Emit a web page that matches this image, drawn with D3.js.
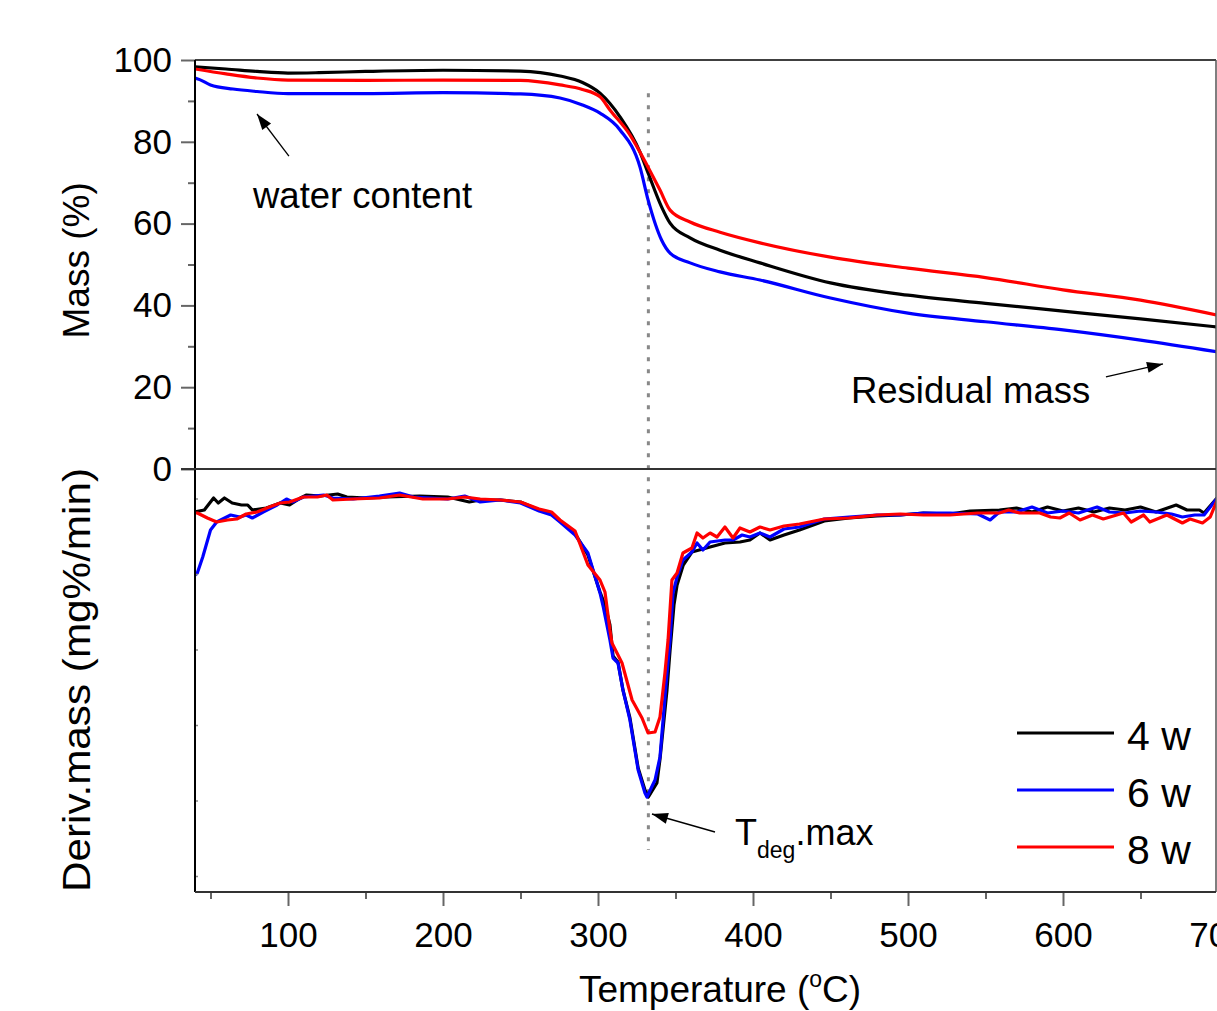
<!DOCTYPE html>
<html><head><meta charset="utf-8">
<script src="https://cdn.jsdelivr.net/npm/d3@7/dist/d3.min.js"></script>
<style>
html,body{margin:0;padding:0;background:#fff;}
svg{display:block;font-family:"Liberation Sans",Arial,sans-serif;}
</style></head>
<body><svg id="chart" width="1217" height="1011"></svg>
<script>
// ---------- DATA ----------
const seriesNames = ["4 w", "6 w", "8 w"];
const seriesColors = ["#000000", "#0000ff", "#ff0000"];

// Mass (%) vs temperature (°C)
const mass4w = [[40,98.3],[60,97.8],[80,97.2],[100,96.8],[120,96.9],[150,97.2],[200,97.5],[250,97.3],[275.5,96.1],[290,94.5],[301.3,91.9],[314.2,86.1],[327.1,77.5],[332.3,72.4],[341,64.1],[346.5,60.1],[359.4,56.5],[378.7,53.5],[404.5,50.4],[450,45.5],[500,42.5],[550,40.5],[600,38.6],[650,36.7],[700,34.7]];
const mass6w = [[40,95.6],[43,95.2],[50,93.9],[64.5,92.9],[80,92.3],[100,91.8],[150,91.8],[200,92.0],[250,91.7],[275.5,90.7],[290,89.0],[301.3,87.0],[314.2,82.9],[327.1,73.8],[332.3,65.8],[341,56.0],[346.5,52.8],[359.4,50.4],[378.7,48.2],[404.5,46.2],[450,41.8],[500,38.1],[550,36.0],[600,34.0],[650,31.5],[700,28.6]];
const mass8w = [[40,97.8],[60,96.6],[80,95.6],[100,95.1],[150,95.0],[200,95.1],[250,95.0],[275.5,93.9],[290,92.8],[301.3,91.0],[307.7,87.8],[320.6,81.7],[332.3,73.8],[340,68.2],[346.5,63.3],[359.4,60.4],[378.7,57.9],[404.5,55.3],[450,51.8],[500,49.1],[550,46.8],[600,43.8],[650,41.3],[700,37.6]];

// Deriv. mass (arbitrary mg%/min units) vs temperature (°C)
const deriv4w = [[40,-0.43],[46,-0.41],[52,-0.29],[55,-0.34],[59,-0.29],[64,-0.34],[70,-0.36],[74,-0.36],[77,-0.41],[86,-0.39],[95,-0.34],[101,-0.36],[108,-0.29],[112,-0.26],[121,-0.27],[132,-0.25],[138,-0.28],[151,-0.29],[164,-0.28],[185,-0.27],[203,-0.28],[217,-0.33],[224,-0.31],[237,-0.31],[250,-0.33],[262,-0.41],[270,-0.44],[275.5,-0.52],[285,-0.64],[293.5,-0.86],[301.3,-1.23],[304.5,-1.36],[307.7,-1.56],[309.7,-1.87],[312.9,-1.93],[316.1,-2.21],[320.6,-2.49],[325.9,-2.99],[330.3,-3.21],[332.5,-3.28],[338,-3.14],[340,-2.90],[344.5,-2.21],[346.5,-1.81],[349,-1.36],[351,-1.16],[355,-0.96],[360.6,-0.83],[367.7,-0.80],[372.3,-0.78],[381.9,-0.74],[391.6,-0.73],[398,-0.71],[404.5,-0.64],[411,-0.71],[420,-0.66],[430,-0.61],[446,-0.52],[462,-0.49],[480,-0.47],[495,-0.46],[510,-0.44],[527,-0.45],[540,-0.42],[559,-0.41],[570,-0.39],[580,-0.43],[590,-0.38],[600,-0.42],[610,-0.39],[620,-0.43],[630,-0.39],[640,-0.41],[650,-0.38],[660,-0.43],[673,-0.36],[680,-0.41],[688,-0.41],[691,-0.44],[700,-0.28]];
const deriv6w = [[40,-1.06],[41.5,-1.04],[45,-0.88],[50,-0.61],[54,-0.53],[63,-0.46],[69,-0.48],[73,-0.46],[77,-0.49],[84,-0.43],[93,-0.36],[99,-0.30],[103,-0.33],[110,-0.28],[123,-0.26],[129,-0.29],[142,-0.30],[159,-0.27],[172,-0.24],[181,-0.28],[203,-0.30],[214,-0.27],[224,-0.33],[237,-0.31],[250,-0.34],[262,-0.42],[270,-0.46],[275.5,-0.53],[285.2,-0.66],[293.5,-0.84],[301.3,-1.24],[303.4,-1.38],[307.7,-1.71],[309.7,-1.89],[312.9,-1.94],[316.1,-2.21],[320.6,-2.51],[325.9,-3.01],[330.3,-3.24],[331.6,-3.28],[336.8,-3.11],[340,-2.88],[344.5,-2.04],[346.5,-1.71],[348.4,-1.24],[351,-1.08],[354.8,-0.91],[360.6,-0.83],[363.9,-0.74],[367.7,-0.81],[372.3,-0.73],[381.9,-0.71],[387.1,-0.71],[393,-0.66],[398,-0.68],[404.5,-0.64],[411,-0.68],[420,-0.60],[430,-0.58],[446,-0.50],[462,-0.48],[480,-0.46],[495,-0.46],[510,-0.44],[527,-0.44],[545,-0.45],[553,-0.51],[559,-0.43],[570,-0.43],[580,-0.38],[590,-0.44],[600,-0.42],[610,-0.44],[622,-0.38],[630,-0.43],[640,-0.44],[650,-0.42],[660,-0.43],[670,-0.45],[677,-0.48],[685,-0.46],[691,-0.46],[700,-0.28]];
const deriv8w = [[40,-0.44],[41.5,-0.44],[48,-0.49],[54,-0.53],[61,-0.51],[67,-0.50],[73,-0.45],[80,-0.43],[88,-0.38],[95,-0.34],[101,-0.33],[110,-0.28],[119,-0.28],[125,-0.26],[129,-0.31],[142,-0.30],[159,-0.29],[172,-0.26],[187,-0.30],[203,-0.30],[214,-0.28],[224,-0.30],[237,-0.31],[250,-0.33],[262,-0.40],[270,-0.43],[275.5,-0.51],[285.2,-0.62],[293.5,-0.96],[301.3,-1.11],[304.5,-1.23],[307.7,-1.61],[309,-1.74],[315.5,-1.94],[322,-2.31],[328.4,-2.49],[332.3,-2.64],[336.8,-2.63],[340,-2.48],[343.2,-2.04],[345.2,-1.71],[347.7,-1.11],[351,-1.04],[354.8,-0.84],[360.6,-0.79],[363.9,-0.64],[367.7,-0.69],[372.3,-0.64],[376.8,-0.68],[381.9,-0.58],[387.1,-0.69],[391.6,-0.59],[398,-0.63],[404.5,-0.58],[411,-0.61],[420,-0.57],[430,-0.55],[446,-0.50],[462,-0.49],[480,-0.46],[495,-0.45],[510,-0.46],[527,-0.46],[545,-0.44],[559,-0.44],[565,-0.41],[572,-0.44],[585,-0.44],[592,-0.48],[598,-0.49],[604,-0.44],[611,-0.51],[619,-0.46],[626,-0.50],[639,-0.44],[644,-0.53],[652,-0.46],[656,-0.53],[667,-0.46],[677,-0.54],[682,-0.50],[690,-0.54],[695,-0.48],[700,-0.29]];

const xTicksMajor = [100, 200, 300, 400, 500, 600, 700];
const xTickLabels = ["100", "200", "300", "400", "500", "600", "700"];
const xTicksMinor = [50, 150, 250, 350, 450, 550, 650];
const massTicksMajor = [0, 20, 40, 60, 80, 100];
const massTickLabels = ["0", "20", "40", "60", "80", "100"];
const massTicksMinor = [10, 30, 50, 70, 90];
const derivTicks = [-0.30, -1.055, -1.81, -2.565, -3.32, -4.075];
const tDegMax = 332.5;

// ---------- LAYOUT ----------
const svg = d3.select("#chart");
const L = 195, R = 1216, T0 = 60, MID = 469, B = 892;
const x = d3.scaleLinear().domain([40, 700]).range([L, 1218]);
const yM = d3.scaleLinear().domain([0, 100]).range([MID, T0]);
const yD = d3.scaleLinear().domain([0, -4.23]).range([MID, B]);
const font = '"Liberation Sans", Arial, sans-serif';

svg.append("defs").append("clipPath").attr("id", "plotclip")
  .append("rect").attr("x", L).attr("y", T0).attr("width", R - L).attr("height", B - T0);

// dotted Tdeg line
svg.append("line")
  .attr("x1", x(tDegMax)).attr("x2", x(tDegMax))
  .attr("y1", yM(91.9)).attr("y2", yD(-3.81))
  .attr("stroke", "#888").attr("stroke-width", 3).attr("stroke-dasharray", "4,8");

// curves
const massSeries = [mass4w, mass6w, mass8w];
const derivSeries = [deriv4w, deriv6w, deriv8w];
const gCurves = svg.append("g").attr("clip-path", "url(#plotclip)");
const lineM = d3.line().x(d => x(d[0])).y(d => yM(d[1])).curve(d3.curveMonotoneX);
const lineD = d3.line().x(d => x(d[0])).y(d => yD(d[1]));
massSeries.forEach((s, i) => {
  gCurves.append("path").attr("d", lineM(s)).attr("fill", "none")
    .attr("stroke", seriesColors[i]).attr("stroke-width", 3.2).attr("stroke-linejoin", "round");
});
derivSeries.forEach((s, i) => {
  gCurves.append("path").attr("d", lineD(s)).attr("fill", "none")
    .attr("stroke", seriesColors[i]).attr("stroke-width", 3.2).attr("stroke-linejoin", "round");
});

// frame
svg.append("line").attr("x1", L).attr("x2", R).attr("y1", T0).attr("y2", T0).attr("stroke", "#000").attr("stroke-width", 1.5);
svg.append("line").attr("x1", R).attr("x2", R).attr("y1", T0).attr("y2", B).attr("stroke", "#555").attr("stroke-width", 1.5);

// upper Y axis
const axM = svg.append("g").attr("transform", `translate(${L},0)`)
  .call(d3.axisLeft(yM).tickValues(massTicksMajor).tickSize(14).tickPadding(9)
    .tickFormat((d, i) => massTickLabels[i]));
axM.select(".domain").remove();
axM.selectAll(".tick line").attr("stroke", "#666").attr("stroke-width", 2);
axM.selectAll(".tick text").attr("font-family", font).attr("font-size", 35).attr("fill", "#000");
const axMm = svg.append("g").attr("transform", `translate(${L},0)`)
  .call(d3.axisLeft(yM).tickValues(massTicksMinor).tickSize(7).tickFormat(""));
axMm.select(".domain").remove();
axMm.selectAll(".tick line").attr("stroke", "#666").attr("stroke-width", 2);

// lower panel tiny inward ticks
svg.append("g").selectAll("line").data(derivTicks).join("line")
  .attr("x1", L).attr("x2", L + 3).attr("y1", d => yD(d)).attr("y2", d => yD(d))
  .attr("stroke", "#888").attr("stroke-width", 1.5);

// left axis line
svg.append("line").attr("x1", L).attr("x2", L).attr("y1", T0).attr("y2", B).attr("stroke", "#000").attr("stroke-width", 2);
// zero line
svg.append("line").attr("x1", L - 14).attr("x2", R).attr("y1", yM(0)).attr("y2", yM(0)).attr("stroke", "#333").attr("stroke-width", 2.2);

// bottom axis
const axX = svg.append("g").attr("transform", `translate(0,${B})`)
  .call(d3.axisBottom(x).tickValues(xTicksMajor).tickSize(14).tickPadding(16)
    .tickFormat((d, i) => xTickLabels[i]));
axX.select(".domain").remove();
axX.selectAll(".tick line").attr("stroke", "#666").attr("stroke-width", 2);
axX.selectAll(".tick text").attr("font-family", font).attr("font-size", 35).attr("fill", "#000");
const axXm = svg.append("g").attr("transform", `translate(0,${B})`)
  .call(d3.axisBottom(x).tickValues(xTicksMinor).tickSize(7).tickFormat(""));
axXm.select(".domain").remove();
axXm.selectAll(".tick line").attr("stroke", "#666").attr("stroke-width", 2);
svg.append("line").attr("x1", L).attr("x2", R).attr("y1", B).attr("y2", B).attr("stroke", "#333").attr("stroke-width", 2.2);

// axis titles
svg.append("text").attr("transform", `translate(89,${yM(51)}) rotate(-90)`)
  .attr("text-anchor", "middle").attr("font-family", font).attr("font-size", 37).text("Mass (%)");
svg.append("text").attr("transform", `translate(90,${yD(-2.11)}) rotate(-90)`)
  .attr("text-anchor", "middle").attr("font-family", font).attr("font-size", 39)
  .attr("textLength", 424).attr("lengthAdjust", "spacingAndGlyphs").text("Deriv.mass (mg%/min)");
const xt = svg.append("text").attr("x", 720).attr("y", 1002).attr("text-anchor", "middle")
  .attr("font-family", font).attr("font-size", 37);
xt.append("tspan").text("Temperature (");
xt.append("tspan").attr("font-size", 23).attr("dy", -15).text("o");
xt.append("tspan").attr("dy", 15).text("C)");

// annotations (arrows in data coordinates)
function arrow(x1, y1, x2, y2) {
  svg.append("line").attr("x1", x1).attr("y1", y1).attr("x2", x2).attr("y2", y2)
    .attr("stroke", "#000").attr("stroke-width", 1.3);
  const a = Math.atan2(y2 - y1, x2 - x1), len = 16, hw = 5.5;
  const bx = x2 - len * Math.cos(a), by = y2 - len * Math.sin(a);
  const px = -Math.sin(a) * hw, py = Math.cos(a) * hw;
  svg.append("polygon").attr("points", `${x2},${y2} ${bx + px},${by + py} ${bx - px},${by - py}`).attr("fill", "#000");
}
arrow(x(100.6), yM(76.5), x(80), yM(86.8));
svg.append("text").attr("x", x(77.4)).attr("y", yM(63.8)).attr("font-family", font).attr("font-size", 36.5).text("water content");
arrow(x(627.7), yM(22.5), x(664.5), yM(25.7));
svg.append("text").attr("x", x(463.2)).attr("y", yM(16.1)).attr("font-family", font).attr("font-size", 36.5).text("Residual mass");
arrow(x(375.5), yD(-3.63), x(334.8), yD(-3.45));
const td = svg.append("text").attr("x", x(388.4)).attr("y", yD(-3.76)).attr("font-family", font).attr("font-size", 36);
td.append("tspan").text("T");
td.append("tspan").attr("font-size", 23).attr("dy", 13).text("deg");
td.append("tspan").attr("dy", -13).text(".max");

// legend
const lg = svg.append("g").selectAll("g").data(seriesNames).join("g")
  .attr("transform", (d, i) => `translate(1017,${733 + i * 57})`);
lg.append("line").attr("x1", 0).attr("x2", 97).attr("y1", 0).attr("y2", 0)
  .attr("stroke", (d, i) => seriesColors[i]).attr("stroke-width", 3.2);
lg.append("text").attr("x", 110).attr("y", 17).attr("font-family", font).attr("font-size", 41).text(d => d);
</script></body></html>
